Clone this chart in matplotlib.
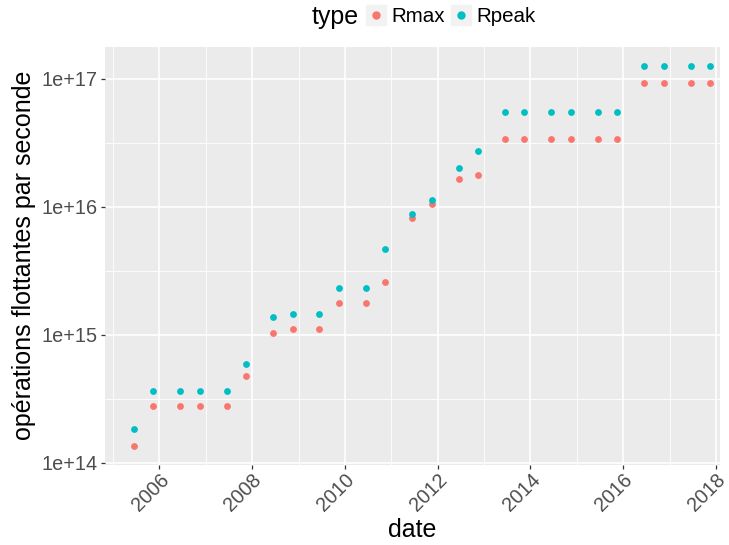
import datetime as dt
import matplotlib
matplotlib.use("Agg")
import matplotlib.pyplot as plt
import matplotlib.dates as mdates
from matplotlib.ticker import FixedLocator, FuncFormatter, NullFormatter
from matplotlib.lines import Line2D
from matplotlib.legend_handler import HandlerTuple
import numpy as np

plt.rcParams['font.family'] = ['Liberation Sans', 'DejaVu Sans']

# ---- data (TOP500 #1 system, flops) ----
dates = [
    "2005-06-15", "2005-11-15", "2006-06-15", "2006-11-15", "2007-06-15",
    "2007-11-15", "2008-06-15", "2008-11-15", "2009-06-15", "2009-11-15",
    "2010-06-15", "2010-11-15", "2011-06-15", "2011-11-15", "2012-06-15",
    "2012-11-15", "2013-06-15", "2013-11-15", "2014-06-15", "2014-11-15",
    "2015-06-15", "2015-11-15", "2016-06-15", "2016-11-15", "2017-06-15",
    "2017-11-15",
]
rmax_tflops = [136.8, 280.6, 280.6, 280.6, 280.6, 478.2, 1026, 1105, 1105, 1759,
               1759, 2566, 8162, 10510, 16324.8, 17590, 33862.7, 33862.7, 33862.7, 33862.7,
               33862.7, 33862.7, 93014.6, 93014.6, 93014.6, 93014.6]
rpeak_tflops = [183.5, 367.0, 367.0, 367.0, 367.0, 596.4, 1375.8, 1456.7, 1456.7, 2331,
                2331, 4701, 8774, 11280, 20132.7, 27112.5, 54902.4, 54902.4, 54902.4, 54902.4,
                54902.4, 54902.4, 125435.9, 125435.9, 125435.9, 125435.9]
series = ["Rmax", "Rpeak"]
colors = {"Rmax": "#F8766D", "Rpeak": "#00BFC4"}
yticks = [1e14, 1e15, 1e16, 1e17]
ytick_labels = ["1e+14", "1e+15", "1e+16", "1e+17"]

x = [dt.datetime.strptime(d, "%Y-%m-%d") for d in dates]
vals = {"Rmax": np.array(rmax_tflops) * 1e12, "Rpeak": np.array(rpeak_tflops) * 1e12}

fig = plt.figure(figsize=(7.29, 5.45), dpi=100)
ax = fig.add_axes([105/729, 1 - 464.5/545, (720-105)/729, (464.5-47)/545])
ax.set_facecolor("#EBEBEB")
for s in series:
    ax.scatter(x, vals[s], s=24, color=colors[s], linewidths=0, zorder=3)

ax.set_yscale("log")
lo, hi = np.log10(min(vals["Rmax"])), np.log10(max(vals["Rpeak"]))
pad = 0.05 * (hi - lo)
ax.set_ylim(10 ** (lo - pad), 10 ** (hi + pad))
ax.yaxis.set_major_locator(FixedLocator(yticks))
ax.yaxis.set_major_formatter(FuncFormatter(lambda v, p: ytick_labels[yticks.index(v)] if v in yticks else ""))
ax.yaxis.set_minor_locator(FixedLocator([10 ** (e + 0.5) for e in range(13, 18)]))
ax.yaxis.set_minor_formatter(NullFormatter())

ax.set_xlim(dt.datetime(2004, 10, 30), dt.datetime(2018, 2, 2))
ax.xaxis.set_major_locator(mdates.YearLocator(2))
ax.xaxis.set_major_formatter(mdates.DateFormatter("%Y"))
ax.xaxis.set_minor_locator(mdates.YearLocator(1))

ax.grid(which="major", color="white", linewidth=1.2, zorder=1)
ax.grid(which="minor", color="white", linewidth=0.6, zorder=1)
ax.set_axisbelow(True)
for sp in ax.spines.values():
    sp.set_visible(False)

ax.tick_params(which="major", length=3.2, width=0.9, color="#333333",
               labelcolor="#4D4D4D", labelsize=14.3, pad=2.0)
ax.tick_params(axis="x", which="major", pad=1.0)
ax.tick_params(which="minor", length=0)
for lab in ax.get_xticklabels():
    lab.set_rotation(45)
    lab.set_ha("right")
    lab.set_va("top")
    lab.set_rotation_mode("anchor")

ax.set_xlabel("date", fontsize=18, color="black", labelpad=2)
ax.set_ylabel("opérations flottantes par seconde", fontsize=18, color="black", labelpad=4)

# legend at top
handles = [(Line2D([], [], marker="s", markersize=15, color="#F2F2F2", ls=""),
            Line2D([], [], marker="o", markersize=5, color=colors[s], ls=""))
           for s in series]
leg = fig.legend(handles, series, handler_map={tuple: HandlerTuple(ndivide=1)},
                 loc="center left", bbox_to_anchor=(365/729, 1 - 17/545), ncol=2,
                 frameon=False, fontsize=14.8, handlelength=1.1, handletextpad=0.2,
                 columnspacing=0.2, borderpad=0, borderaxespad=0)
fig.text(312/729, 1 - 17/545, "type", fontsize=18, ha="left", va="center")

fig.savefig("out.png", dpi=100)
